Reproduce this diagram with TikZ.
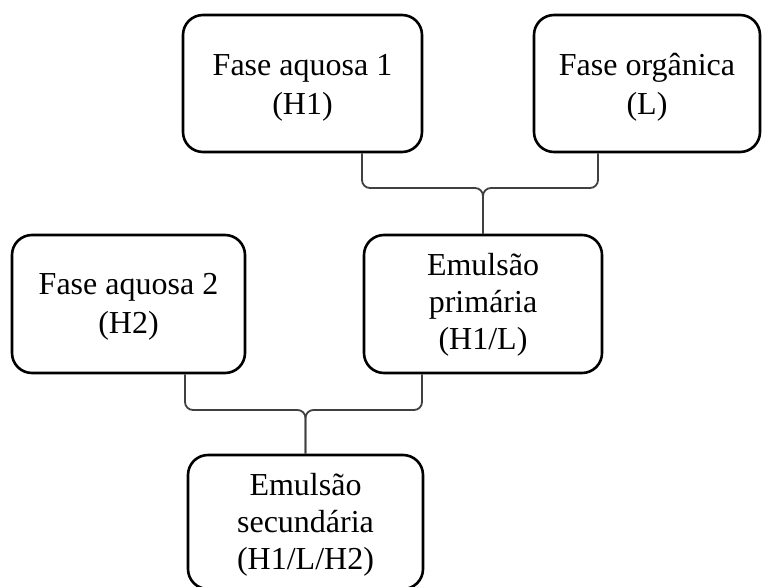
\documentclass[tikz,border=0pt]{standalone}
\usepackage{fontspec}
\setmainfont{Liberation Serif}
\begin{document}
\begin{tikzpicture}[x=1pt,y=1pt,
  box/.style={draw=black, line width=2.6pt, rounded corners=20pt, inner sep=0pt, fill=white},
  txt/.style={inner sep=0pt, align=center, font=\fontsize{32}{39}\selectfont},
  brace/.style={draw=black!75, line width=1.8pt, rounded corners=8pt}]
\useasboundingbox (0,0) rectangle (762,-586);
\node[box, minimum width=239pt, minimum height=137pt] (b1) at (302.5,-83.5) {};
\node[box, minimum width=226pt, minimum height=137pt] (b2) at (647,-83.5) {};
\node[box, minimum width=233pt, minimum height=138pt] (b4) at (128.5,-304) {};
\node[box, minimum width=238pt, minimum height=138pt] (b3) at (483,-304) {};
\node[box, minimum width=235pt, minimum height=134pt] (b5) at (305.5,-522) {};
\node[txt] (t1) at ([yshift=-4pt]b1.center) {Fase aquosa 1\\(H1)};
\node[txt] (t2) at ([yshift=-4pt]b2.center) {Fase orgânica\\(L)};
\node[txt] (t4) at ([yshift=-3pt]b4.center) {Fase aquosa 2\\(H2)};
\node[txt, font=\fontsize{32}{37}\selectfont] (t3) at ([yshift=-1pt]b3.center) {Emulsão\\primária\\(H1/L)};
\node[txt, font=\fontsize{32}{37}\selectfont] (t5) at ([yshift=-3pt]b5.center) {Emulsão\\secundária\\(H1/L/H2)};
% brace 1
\coordinate (h1) at (0,-188);
\coordinate (l1) at (362,0);
\coordinate (r1) at (598,0);
\draw[brace] (b1.south -| l1) -- (l1 |- h1) -- (b3.north |- h1) -- (b3.north);
\draw[brace] (b2.south -| r1) -- (r1 |- h1) -- (b3.north |- h1) -- (b3.north);
% brace 2
\coordinate (h2) at (0,-410);
\coordinate (l2) at (185,0);
\coordinate (r2) at (422,0);
\draw[brace] (b4.south -| l2) -- (l2 |- h2) -- (b5.north |- h2) -- (b5.north);
\draw[brace] (b3.south -| r2) -- (r2 |- h2) -- (b5.north |- h2) -- (b5.north);
\end{tikzpicture}
\end{document}
